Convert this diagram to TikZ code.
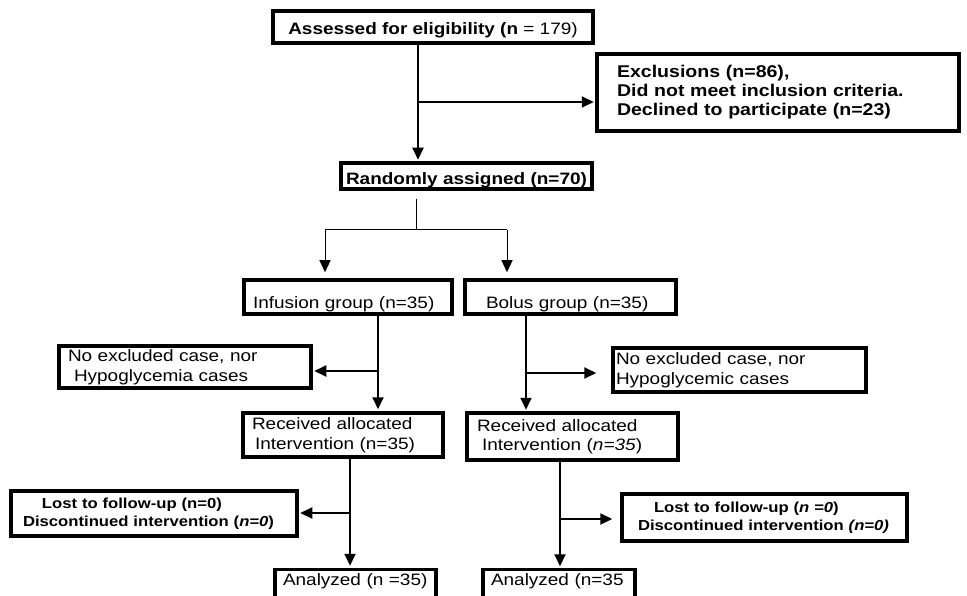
\documentclass[tikz,border=0pt]{standalone}
\usepackage{fontspec}
\setmainfont{Liberation Sans}[FakeStretch=1.15]
\usetikzlibrary{arrows.meta}
\begin{document}
\begin{tikzpicture}[x=1pt,y=-1pt]
\tikzset{box/.style={draw,line width=3.5pt,inner ysep=0pt,align=left,font=\fontsize{16.5}{19.5}\selectfont},
  bbox/.style={box,font=\fontsize{16.5}{19}\selectfont\bfseries},
  sbox/.style={box,font=\fontsize{14.5}{18}\selectfont\bfseries},
  conn/.style={line width=2pt},
  arr/.style={conn,-{Triangle[length=12pt,width=11pt]}},
  fine/.style={line width=1pt},
  finearr/.style={fine,-{Triangle[length=12pt,width=11pt]}}}
\useasboundingbox (0,0) rectangle (967,596);
\clip (0,0) rectangle (967,596);
\node [bbox,align=center,minimum width=320pt,text height=23.5pt,text depth=8.5pt] (assess) at (433,27) {Assessed for eligibility (n {\mdseries = 179)}};
\node [bbox,text width=322pt,inner xsep=20pt,minimum height=77pt,font=\fontsize{17}{19}\selectfont\bfseries] (excl) at (778,92.5) {Exclusions (n=86),\\Did not meet inclusion criteria.\\Declined to participate (n=23)};
\node [bbox,align=center,minimum width=251pt,text height=21.5pt,text depth=4.5pt] (rand) at (466.5,176) {Randomly assigned (n=70)};
\node [box,text width=190pt,inner xsep=9pt,text height=28.5pt,text depth=5.5pt] (infu) at (348,297) {Infusion group (n=35)};
\node [box,text width=169pt,inner xsep=21pt,text height=28.5pt,text depth=5.5pt] (bolus) at (570.5,297) {Bolus group (n=35)};
\node [box,text width=234pt,inner xsep=9pt,minimum height=42pt] (noL) at (185,367) {No excluded case, nor\\\hspace*{6pt}Hypoglycemia cases};
\node [box,text width=247pt,inner xsep=3pt,minimum height=44pt] (noR) at (739.5,370) {No excluded case, nor\\Hypoglycemic cases};
\node [box,text width=182pt,inner xsep=9pt,minimum height=44pt] (recl) at (343,435) {Received allocated\\\hspace*{3pt}Intervention (n=35)};
\node [box,text width=191pt,inner xsep=10pt,minimum height=47pt] (recr) at (572.5,436.5) {Received allocated\\\hspace*{5pt}Intervention (\textit{n=35})};
\node [sbox,text width=262pt,inner xsep=12pt,minimum height=45pt] (lostL) at (154,513.5) {\hspace*{19pt}Lost to follow-up (n=0)\\Discontinued intervention (\textit{n=0})};
\node [sbox,text width=253pt,inner xsep=16pt,minimum height=47pt] (lostR) at (764.5,517.5) {\hspace*{16pt}Lost to follow-up (\textit{n =0})\\Discontinued intervention \textit{(n=0)}};
\node [box,text width=145pt,inner xsep=8pt,text height=16pt,text depth=15pt] (anl) at (355.5,585) {Analyzed (n =35)};
\node [box,text width=136pt,inner xsep=8pt,text height=16pt,text depth=15pt] (anr) at (559,585) {Analyzed (n=35};
\coordinate (ja) at (418,102);
\coordinate (jr) at (416,230);
\coordinate (sl) at (325,230);
\coordinate (sr) at (507,230);
\coordinate (jl1) at (378,371);
\coordinate (jr1) at (526,373);
\coordinate (jl2) at (350,513);
\coordinate (jr2) at (560,519);
\draw [arr,shorten >=1.5pt] (ja |- assess.south) -- (ja |- rand.north);
\draw [arr,shorten >=1.5pt] (ja) -- (excl.west |- ja);
\draw [fine] (jr |- rand.south) ++(0,8) -- (jr);
\draw [fine] (sl) -- (sr);
\draw [finearr,shorten >=6pt] (sl) -- (sl |- infu.north);
\draw [finearr,shorten >=6pt] (sr) -- (sr |- bolus.north);
\draw [arr,shorten >=2pt] (jl1 |- infu.south) -- (jl1 |- recl.north);
\draw [arr,shorten >=1.5pt] (jl1) -- (noL.east |- jl1);
\draw [arr,shorten >=1.5pt] (jr1 |- bolus.south) -- (jr1 |- recr.north);
\draw [arr,shorten >=15pt] (jr1) -- (noR.west |- jr1);
\draw [arr,shorten >=2pt] (jl2 |- recl.south) -- (jl2 |- anl.north);
\draw [arr,shorten >=1.5pt] (jl2) -- (lostL.east |- jl2);
\draw [arr,shorten >=1.5pt] (jr2 |- recr.south) -- (jr2 |- anr.north);
\draw [arr,shorten >=8pt] (jr2) -- (lostR.west |- jr2);
\end{tikzpicture}
\end{document}
